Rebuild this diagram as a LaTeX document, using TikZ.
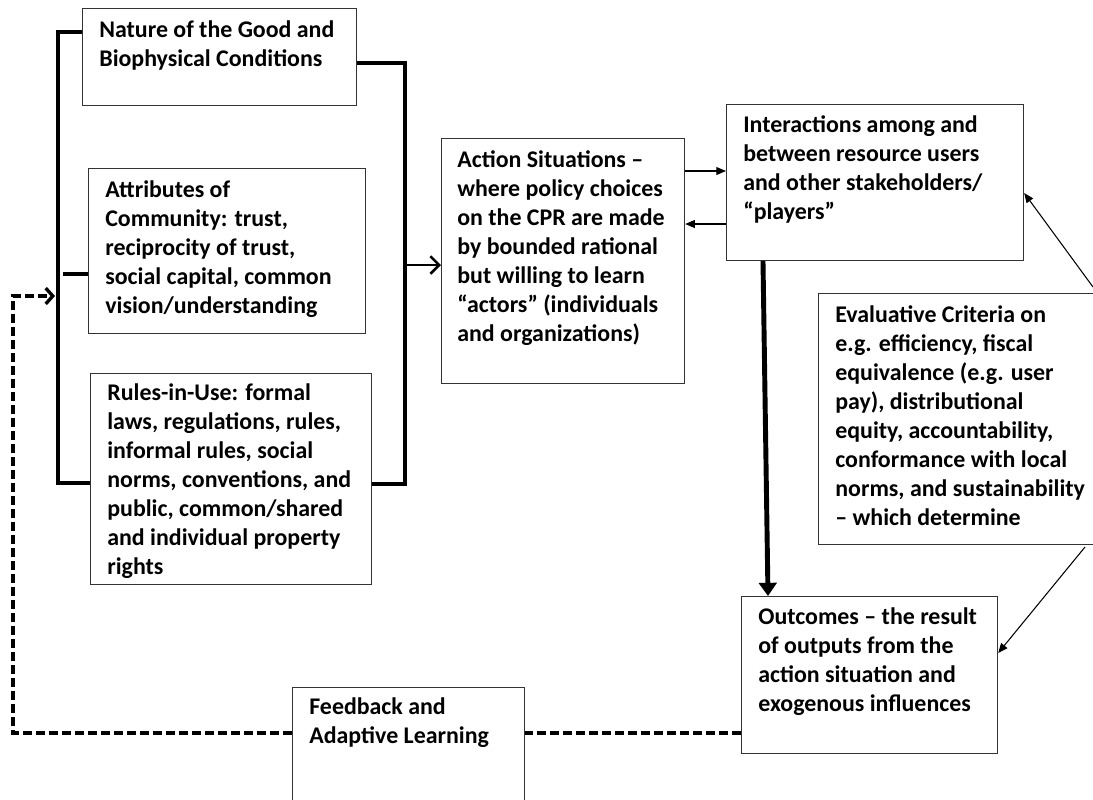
\documentclass[tikz,border=0pt]{standalone}
\usepackage{fontspec}
\setmainfont{Carlito}
\usetikzlibrary{arrows.meta}

\tikzset{
  box/.style={draw=black!80, line width=0.7pt, anchor=north west, inner sep=0pt},
  txt/.style={anchor=north west, align=left, inner sep=0pt,
    font=\fontsize{13.6}{16.5}\selectfont\bfseries, execute at begin node=\strut},
  bracket/.style={line width=1.9pt},
  link/.style={line width=0.6pt, -{Triangle[length=5.5pt,width=4.5pt]}},
  heavy/.style={line width=2.8pt, -{Triangle[length=7.5pt,width=10pt]}},
  feed/.style={line width=1.9pt, dash pattern=on 5pt off 2.4pt},
}

\begin{document}
\begin{tikzpicture}[x=0.02cm, y=-0.02cm]
    \clip (0,0) rectangle (1093,799);
    \fill[white] (0,0) rectangle (1093,799);

    % Boxes on the left
    \node[box, minimum width=5.48cm, minimum height=1.94cm] (nature) at (82,8) {};
    \node[txt] (nature-t) at (99,20) {Nature of the Good and\\Biophysical Conditions};
    \node[box, minimum width=5.54cm, minimum height=3.30cm] (attrib) at (88,168) {};
    \node[txt] (attrib-t) at (105,180) {Attributes of\\Community: trust,\\reciprocity of trust,\\social capital, common\\vision/understanding};
    \node[box, minimum width=5.62cm, minimum height=4.22cm] (rules) at (90,373) {};
    \node[txt] (rules-t) at (107,383) {Rules-in-Use: formal\\laws, regulations, rules,\\informal rules, social\\norms, conventions, and\\public, common/shared\\and individual property\\rights};

    % Action situation and interactions
    \node[box, minimum width=4.86cm, minimum height=4.90cm] (action) at (441,138) {};
    \node[txt] (action-t) at (457,150) {Action Situations –\\where policy choices\\on the CPR are made\\by bounded rational\\but willing to learn\\“actors” (individuals\\and organizations)};
    \node[box, minimum width=5.94cm, minimum height=3.12cm] (inter) at (726,104) {};
    \node[txt] (inter-t) at (743,115) {Interactions among and\\between resource users\\and other stakeholders/\\“players”};

    % Criteria, outcomes, feedback
    \node[box, minimum width=5.84cm, minimum height=5.02cm] (eval) at (818,293) {};
    \node[txt] (eval-t) at (835,305) {Evaluative Criteria on\\e.g. efficiency, fiscal\\equivalence (e.g. user\\pay), distributional\\equity, accountability,\\conformance with local\\norms, and sustainability\\– which determine};
    \node[box, minimum width=5.12cm, minimum height=3.14cm] (outcomes) at (741,596) {};
    \node[txt] (outcomes-t) at (758,607) {Outcomes – the result\\of outputs from the\\action situation and\\exogenous influences};
    \node[box, minimum width=4.64cm, minimum height=2.66cm] (feedback) at (292,687) {};
    \node[txt] (feedback-t) at (309,697) {Feedback and\\Adaptive Learning};

    % Bracket round the three left boxes
    \coordinate (lt) at (58,32);
    \coordinate (lb) at (58,483);
    \coordinate (la) at (63,274);
    \draw[bracket] (lt -| nature.west) -- (lt) -- (lb) -- (lb -| rules.west);
    \draw[bracket] (la) -- (attrib.west |- la);
    \coordinate (rt) at (405,63);
    \coordinate (rb) at (405,484);
    \coordinate (rm) at (405,265);
    \draw[bracket] (nature.east |- rt) -- (rt) -- (rb) -- (rules.east |- rb);
    \draw[line width=1.5pt, -{Straight Barb[length=5pt,width=10pt]}] (rm) -- (action.west |- rm);

    % Between action situation and interactions
    \draw[link] (action.east |- 0,171) -- (inter.west |- 0,171);
    \draw[link] (inter.west |- 0,224) -- (action.east |- 0,224);
    \coordinate (dtop) at (inter.south -| 763,0);
    \draw[heavy] (dtop) -- (outcomes.north -| 768,0);

    % Arrows coming in from the right
    \coordinate (ein) at (1093,287);
    \coordinate (eout) at (1085,547);
    \draw[link] (ein) -- (inter.east |- 0,193);
    \draw[link] (eout) -- (outcomes.east |- 0,653);

    % Feedback loop (dashed)
    \coordinate (fc) at (13,733);
    \coordinate (fa) at (13,296);
    \coordinate (ftip) at (55,296);
    \draw[feed] (outcomes.west |- fc) -- (feedback.east |- fc);
    \draw[feed, -{Straight Barb[length=4pt,width=9pt]}] (feedback.west |- fc) -- (fc) -- (fa) -- (ftip);
\end{tikzpicture}
\end{document}
